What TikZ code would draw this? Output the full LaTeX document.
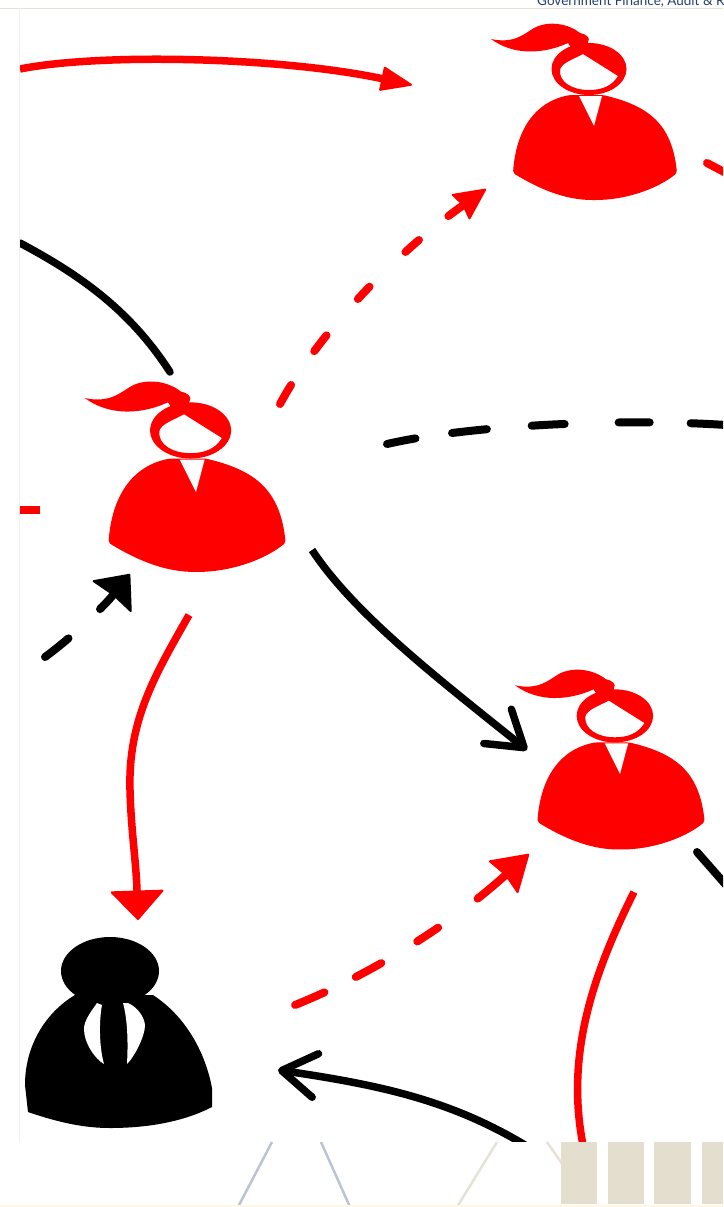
\documentclass[tikz,border=0pt]{standalone}
\usepackage{fontspec}
\setmainfont{Lato}
\usepackage{xcolor}
\usetikzlibrary{arrows.meta}
\definecolor{hotred}{HTML}{FF0000}
\definecolor{titleblue}{HTML}{24406E}
\definecolor{barbeige}{HTML}{E4DECF}
\definecolor{lineblue}{HTML}{BCC3D4}
\definecolor{linebeige}{HTML}{E6E2D8}
\definecolor{paleyellow}{HTML}{FFF7E6}
\tikzset{
  redwire/.style   = {draw=hotred, line width=7.5pt},
  blackwire/.style = {draw=black, line width=7.5pt},
  reddash/.style   = {redwire, line cap=round, line width=8pt},
  blackdash/.style = {blackwire, line cap=round, line width=8pt},
  bigred/.style    = {-{Stealth[length=33pt, width=25pt, inset=0pt, line width=2pt, round]}},
  downred/.style   = {-{Stealth[length=30pt, width=55pt, inset=0pt, line width=2pt, round]}},
  slimred/.style   = {-{Stealth[length=33pt, width=32pt, inset=3pt, line width=2pt, round]}},
  widered/.style   = {-{Stealth[length=36pt, width=45pt, inset=3pt, line width=2pt, round]}},
  blackhead/.style = {-{Stealth[length=30pt, width=52pt, inset=2pt, line width=2pt, round]}},
  barbhead/.style  = {-{Straight Barb[length=34pt, width=44pt, round]}},
  woman/.pic = {
    % body
    \fill[hotred, rounded corners=2pt] (-24,-31) .. controls (-60,-24) and (-78,5) .. (-81,47)
      .. controls (-50,66) and (-25,74) .. (0,74)
      .. controls (30,74) and (62,64) .. (83,47)
      .. controls (78,-2) and (55,-20) .. (9,-31) -- cycle;
    \fill[white] (-15,-30) -- (8,-30) -- (0,0) -- cycle;
    % head with hair
    \fill[hotred, even odd rule] (-5,-57) ellipse [x radius=37.5, y radius=26]
      (-34,-56) .. controls (-33,-63) and (-20,-67) .. (-11,-72) -- (24,-50)
      .. controls (18,-40) and (8,-36) .. (-5,-36)
      .. controls (-22,-36) and (-35,-44) .. cycle;
    % ponytail
    \fill[hotred] (-103,-87) .. controls (-80,-82) and (-70,-92) .. (-60,-98)
      .. controls (-45,-106) and (-25,-102) .. (-14,-93)
      .. controls (-8,-92) and (-3,-88) .. (-6,-84) -- (-8,-74) -- (-20,-74) -- (-26,-83)
      .. controls (-50,-72) and (-80,-70) .. cycle;
  },
  boss/.pic = {
    \fill[black] (0,0) ellipse [x radius=49, y radius=34];
    \fill[black] (-35,24) .. controls (-65,42) and (-85,75) .. (-85,114)
      -- (-82,141) .. controls (-50,152) and (-25,157) .. (0,157)
      .. controls (40,157) and (75,150) .. (102,136) -- (102,117)
      .. controls (95,80) and (75,45) .. (43,24) -- cycle;
    \fill[white] (-13,32) .. controls (-20,42) and (-26,50) .. (-26,58)
      .. controls (-26,72) and (-15,88) .. (-6,93)
      .. controls (-11,75) and (-11,50) .. (-8,34) -- cycle;
    \fill[white] (13,32) .. controls (18,50) and (18,75) .. (17,93)
      .. controls (25,85) and (35,65) .. (35,54)
      .. controls (34,45) and (27,36) .. (18,32) -- cycle;
  }
}

\begin{document}
\begin{tikzpicture}[x=1pt, y=-1pt]
\useasboundingbox (0,0) rectangle (723,1207);
\clip (0,0) rectangle (723,1207);
\fill[white] (0,0) rectangle (723,1207);

% ---------- people ----------
\pic (wa) at (594,126) {woman};
\pic[scale=1.08] (wb) at (196,492) {woman};
\pic[scale=1.02] (wc) at (620,774) {woman};
\pic (mn) at (110,971) {boss};

% ---------- free ends of the connectors ----------
\coordinate (topin) at (20,69);
\coordinate (topout) at (412,85);
\coordinate (bup) at (280,404);
\coordinate (aend) at (486,189);
\coordinate (toplft) at (20,243);
\coordinate (toprgt) at (170,372);
\coordinate (midlft) at (387,444);
\coordinate (midrgt) at (726,425);
\coordinate (lowlft) at (45,657);
\coordinate (btip) at (130,574);
\coordinate (bdown) at (189,615);
\coordinate (bbend) at (130,790);
\coordinate (mtip) at (138,920);
\coordinate (bout) at (312,550);
\coordinate (cin) at (527,750);
\coordinate (mup) at (295,1005);
\coordinate (ctip) at (529,854);
\coordinate (cdown) at (634,892);
\coordinate (reddrop) at (584,1150);
\coordinate (blackrise) at (525,1145);
\coordinate (mback) at (278,1070);

% ---------- solid connectors ----------
\draw[redwire, bigred] (topin) .. controls (100,53) and (280,57) .. (topout);
\draw[blackwire, line cap=round] (toplft) .. controls (80,275) and (130,310) .. (toprgt);
\draw[redwire, downred] (bdown) .. controls (155,675) and (128,720) .. (bbend)
  .. controls (131,830) and (136,860) .. (mtip);
\draw[blackwire, barbhead] (bout) .. controls (355,615) and (440,680) .. (cin);
\draw[redwire] (cdown) .. controls (590,980) and (565,1060) .. (reddrop);
\draw[blackwire, barbhead] (blackrise) .. controls (450,1100) and (380,1085) .. (mback);

% ---------- dashed connectors ----------
\draw[reddash, slimred, dash pattern=on 22pt off 41pt on 20pt off 48pt on 17pt off 50pt on 18pt off 38pt on 200pt off 1pt]
  (bup) .. controls (320,330) and (400,250) .. (aend);
\draw[blackdash, dash pattern=on 29pt off 37pt on 35pt off 45pt on 33pt off 54pt on 31pt off 41pt on 60pt off 1pt]
  (midlft) .. controls (470,425) and (620,418) .. (midrgt);
\draw[blackdash, blackhead, dash pattern=on 30pt off 43pt on 200pt off 1pt]
  (lowlft) .. controls (75,635) and (105,605) .. (btip);
\draw[reddash, widered, dash pattern=on 32pt off 35pt on 29pt off 42pt on 25pt off 49pt on 200pt off 1pt]
  (mup) .. controls (370,975) and (450,925) .. (ctip);

% ---------- stubs at the edges of the panel ----------
\coordinate (astub) at (707,163);
\coordinate (astubend) at (726,173);
\coordinate (cstub) at (697,852);
\coordinate (cstubend) at (726,885);
\coordinate (lstub) at (20,510);
\coordinate (lstubend) at (40,510);
\draw[reddash] (astub) -- (astubend);
\draw[blackdash] (cstub) -- (cstubend);
\draw[redwire] (lstub) -- (lstubend);

% ---------- what lies round the panel ----------
\fill[white] (0,0) rectangle (723,8);
\fill[white] (0,0) rectangle (19.5,1142);
\draw[linebeige, line width=0.6pt] (0,8) -- (723,8);
\draw[linebeige!50, line width=0.5pt] (19.5,8) -- (19.5,1142);
\node[anchor=base west, inner sep=0pt, text=titleblue, font=\fontsize{13.5}{16}\selectfont] (banner) at (537,6)
  {Government Finance, Audit \& R};

\fill[white] (0,1142) rectangle (723,1207);
\draw[lineblue, line width=2.5pt] (272,1142) -- (238,1207);
\draw[lineblue, line width=2.5pt] (321,1142) -- (350,1207);
\draw[linebeige, line width=2.5pt] (497,1142) -- (457,1207);
\draw[linebeige, line width=2.5pt] (547,1142) -- (565,1168);
\foreach \bx/\bw in {561/36,608/36,654/37,702/22} {
  \fill[barbeige] (\bx,1142) rectangle ++(\bw,62);
}
\fill[paleyellow] (0,1204.5) rectangle (723,1207);

\end{tikzpicture}
\end{document}
